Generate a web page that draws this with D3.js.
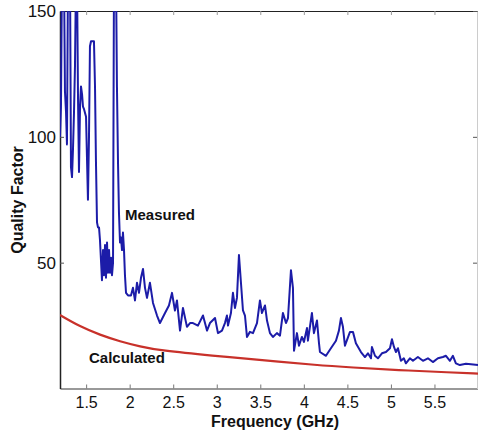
<!DOCTYPE html>
<html><head><meta charset="utf-8">
<script src="https://cdn.jsdelivr.net/npm/d3@7"></script>
<style>body{margin:0;background:#fff}svg{display:block}</style>
</head><body>
<svg id="c" width="478" height="431"></svg>
<script>
const xTicks = [1.5, 2, 2.5, 3, 3.5, 4, 4.5, 5, 5.5];
const yTicks = [50, 100, 150];

const measuredFreq = [1.200,1.211,1.223,1.246,1.257,1.269,1.280,1.292,1.315,1.326,1.338,1.349,1.361,1.372,1.384,1.395,1.407,1.418,1.430,1.441,1.453,1.464,1.476,1.499,1.521,1.533,1.544,1.556,1.590,1.602,1.613,1.625,1.636,1.648,1.659,1.682,1.694,1.705,1.717,1.728,1.740,1.751,1.763,1.774,1.786,1.797,1.809,1.820,1.843,1.854,1.866,1.877,1.889,1.900,1.912,1.923,1.935,1.946,1.958,1.981,2.015,2.038,2.061,2.084,2.107,2.130,2.153,2.176,2.199,2.233,2.268,2.314,2.348,2.406,2.451,2.486,2.520,2.543,2.578,2.612,2.658,2.693,2.727,2.784,2.842,2.888,2.922,2.980,3.014,3.060,3.094,3.117,3.129,3.163,3.186,3.209,3.232,3.255,3.278,3.301,3.324,3.347,3.381,3.416,3.462,3.496,3.519,3.554,3.577,3.611,3.645,3.691,3.726,3.760,3.795,3.818,3.852,3.875,3.887,3.921,3.944,3.978,4.001,4.036,4.047,4.093,4.116,4.151,4.174,4.185,4.254,4.311,4.369,4.403,4.426,4.449,4.472,4.530,4.564,4.598,4.656,4.702,4.736,4.771,4.782,4.817,4.851,4.897,4.943,4.989,5.012,5.035,5.058,5.081,5.115,5.149,5.172,5.218,5.253,5.310,5.368,5.425,5.482,5.540,5.597,5.632,5.678,5.712,5.746,5.792,5.861,5.919,6.000];
const measuredQ = [100,112,165,165,118,110,97,165,165,88,84,95,110,128,165,165,115,86,112,120,117,112,111,108,75,100,136,138,138,120,90,66,64,64,59,43,55,45,57,44,58,46,55,46,52,45,50,165,165,120,90,70,58,60,55,62,55,45,38,37,37,40,35,42,38,44,47.5,40,36,42,34,29,26,30,33,38,31,35,23,32,24.5,26,26,25,29,23,26,28,22,23,26,29,25,30,38,32,36,53,42,31,29,20.5,22.5,22,26,35,30,33,27,22,20.5,22,21,30,26,28,47,40,15,22,17,20.5,18.5,24,19,30,22,27,18,14.5,13,16,19,23,28,24.5,17,22.5,22.5,18,14.5,12.5,14,12,16.5,13,12,14,14.5,16,19.6,16.5,14.5,16,11,12,10,12,11,12.5,11,12,10.5,12,12.5,13,11,13,10,9.3,9.8,9.6,9.3];

const calcFreq = [1.2, 1.43, 1.66, 1.89, 2.12, 2.35, 2.96, 3.5, 4.17, 4.54, 5.08, 5.69, 6.0];
const calcQ = [29.2, 24.6, 21.3, 18.7, 16.7, 15.1, 13.0, 11.4, 9.2, 8.4, 7.3, 6.4, 5.9];

const svg = d3.select("#c");
const L = 60, R = 478, T = 11, B = 388.5;
const x = d3.scaleLinear().domain([1.2, 6]).range([L, R]);
const y = d3.scaleLinear().domain([0, 150]).range([B, T]);

svg.append("clipPath").attr("id","clip").append("rect")
  .attr("x", L).attr("y", T).attr("width", R - L).attr("height", B - T);

const font = "Arial, 'Liberation Sans', sans-serif";

// axes
const xAxis = svg.append("g").attr("transform", `translate(0,${B})`)
  .call(d3.axisBottom(x).tickValues(xTicks).tickSizeInner(-4).tickSizeOuter(0).tickPadding(8).tickFormat(d3.format("")));
xAxis.select(".domain").attr("stroke", "#777").attr("stroke-width", 1.5);
xAxis.selectAll(".tick line").attr("stroke", "#777");
xAxis.selectAll("text").attr("font-family", font).attr("font-size", 16).attr("fill", "#111");

const xTop = svg.append("g").attr("transform", `translate(0,${T})`)
  .call(d3.axisTop(x).tickValues(xTicks).tickSizeInner(-4).tickSizeOuter(0).tickFormat(""));
xTop.select(".domain").attr("stroke", "#222").attr("stroke-width", 1.2);
xTop.selectAll(".tick line").attr("stroke", "#999");

const yAxis = svg.append("g").attr("transform", `translate(${L},0)`)
  .call(d3.axisLeft(y).tickValues(yTicks).tickSizeInner(-4).tickSizeOuter(0).tickPadding(4));
yAxis.select(".domain").attr("stroke", "#222").attr("stroke-width", 1.5);
yAxis.selectAll(".tick line").attr("stroke", "#555");
yAxis.selectAll("text").attr("font-family", font).attr("font-size", 17).attr("fill", "#111");

const yRight = svg.append("g").attr("transform", `translate(${R - 1},0)`)
  .call(d3.axisRight(y).tickValues(yTicks).tickSizeInner(-4).tickSizeOuter(0).tickFormat(""));
yRight.select(".domain").attr("stroke", "#ccc");
yRight.selectAll(".tick line").attr("stroke", "#555");

// lines
const plot = svg.append("g").attr("clip-path", "url(#clip)");
const measured = measuredFreq.map((f, i) => [f, measuredQ[i]]);
const calc = calcFreq.map((f, i) => [f, calcQ[i]]);

plot.append("path").datum(calc)
  .attr("fill", "none").attr("stroke", "#c8312a").attr("stroke-width", 2.2)
  .attr("d", d3.line().x(d => x(d[0])).y(d => y(d[1])).curve(d3.curveBasis));

plot.append("path").datum(measured)
  .attr("fill", "none").attr("stroke", "#1c1ca8").attr("stroke-width", 2)
  .attr("stroke-linejoin", "round")
  .attr("d", d3.line().x(d => x(d[0])).y(d => y(d[1])));

// labels
svg.append("text").attr("x", 125).attr("y", 220).text("Measured")
  .attr("font-family", font).attr("font-weight", "bold").attr("font-size", 15).attr("fill", "#111");
svg.append("text").attr("x", 89).attr("y", 363).text("Calculated")
  .attr("font-family", font).attr("font-weight", "bold").attr("font-size", 15).attr("fill", "#111");

svg.append("text").attr("x", 275).attr("y", 427).attr("text-anchor", "middle").text("Frequency (GHz)")
  .attr("font-family", font).attr("font-weight", "bold").attr("font-size", 16).attr("fill", "#111");
svg.append("text").attr("transform", "translate(23,200) rotate(-90)").attr("text-anchor", "middle").text("Quality Factor")
  .attr("font-family", font).attr("font-weight", "bold").attr("font-size", 16).attr("fill", "#111");
</script>
</body></html>
